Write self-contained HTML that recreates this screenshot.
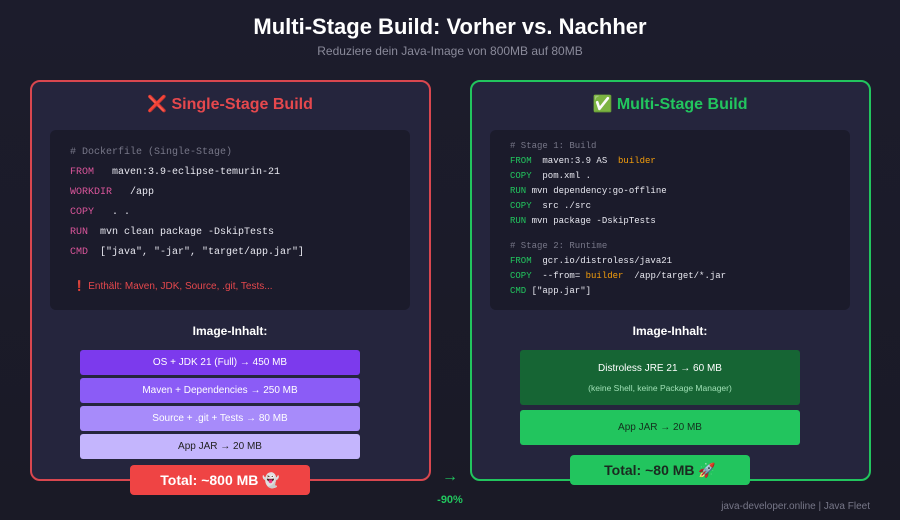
<!DOCTYPE html>
<html><head><meta charset="utf-8"><style>
*{margin:0;padding:0;box-sizing:border-box}
body{width:900px;height:520px;background:linear-gradient(180deg,#1c1c2c,#1a1a26);font-family:"Liberation Sans","DejaVu Sans",sans-serif;position:relative;overflow:hidden;color:#fff}
.a{position:absolute}
.c{text-align:center}
.panel{position:absolute;border-radius:10px;background:#25253d;border:2px solid}
.code{position:absolute;background:#1b1b2b;border-radius:6px}
.m{font-family:"Liberation Mono","DejaVu Sans Mono",monospace;white-space:pre;position:absolute;color:#e8e8f0}
.k1{color:#d9559a}.k2{color:#22c55e}.cm{color:#777788}.b{color:#f59e0b}
.bar{position:absolute;border-radius:3px;display:flex;align-items:center;justify-content:center;font-size:10px}
</style></head><body>
<div class="a c" style="left:0;width:900px;top:14px;font-size:22px;font-weight:bold">Multi-Stage Build: Vorher vs. Nachher</div>
<div class="a c" style="left:0;width:900px;top:44px;font-size:12px;color:#8a8a9a">Reduziere dein Java-Image von 800MB auf 80MB</div>

<div class="panel" style="left:30px;top:80px;width:401px;height:401px;border-color:#d9474f"></div>
<div class="a c" style="left:30px;width:400px;top:94px;font-size:16px;font-weight:bold;color:#e5484d">❌ Single-Stage Build</div>
<div class="code" style="left:50px;top:130px;width:360px;height:180px"></div>
<div class="m cm" style="left:70px;top:147px;font-size:10px">#&nbsp;Dockerfile (Single-Stage)</div>
<div class="m" style="left:70px;top:167px;font-size:10px"><span class="k1">FROM</span>   maven:3.9-eclipse-temurin-21</div>
<div class="m" style="left:70px;top:187px;font-size:10px"><span class="k1">WORKDIR</span>   /app</div>
<div class="m" style="left:70px;top:207px;font-size:10px"><span class="k1">COPY</span>   . .</div>
<div class="m" style="left:70px;top:227px;font-size:10px"><span class="k1">RUN</span>  mvn clean package -DskipTests</div>
<div class="m" style="left:70px;top:247px;font-size:10px"><span class="k1">CMD</span>  ["java", "-jar", "target/app.jar"]</div>
<div class="a" style="left:73px;top:281px;font-size:10px;color:#e5484d">❗ Enthält: Maven, JDK, Source, .git, Tests...</div>
<div class="a c" style="left:30px;width:400px;top:324px;font-size:12px;font-weight:bold">Image-Inhalt:</div>
<div class="bar" style="left:80px;top:350px;width:280px;height:25px;background:#7c3aed">OS + JDK 21 (Full) → 450 MB</div>
<div class="bar" style="left:80px;top:378px;width:280px;height:25px;background:#8b5cf6">Maven + Dependencies → 250 MB</div>
<div class="bar" style="left:80px;top:406px;width:280px;height:25px;background:#a78bfa">Source + .git + Tests → 80 MB</div>
<div class="bar" style="left:80px;top:434px;width:280px;height:25px;background:#c4b5fd;color:#222">App JAR → 20 MB</div>
<div class="bar" style="left:130px;top:465px;width:180px;height:30px;background:#ef4444;font-size:14px;font-weight:bold;border-radius:4px">Total: ~800 MB 👻</div>

<div class="panel" style="left:470px;top:80px;width:401px;height:401px;border-color:#22c55e"></div>
<div class="a c" style="left:470px;width:400px;top:94px;font-size:16px;font-weight:bold;color:#22c55e">✅ Multi-Stage Build</div>
<div class="code" style="left:490px;top:130px;width:360px;height:180px"></div>
<div class="m cm" style="left:510px;top:141px;font-size:9px">#&nbsp;Stage 1: Build</div>
<div class="m" style="left:510px;top:156px;font-size:9px"><span class="k2">FROM</span>  maven:3.9 AS  <span class="b">builder</span></div>
<div class="m" style="left:510px;top:171px;font-size:9px"><span class="k2">COPY</span>  pom.xml .</div>
<div class="m" style="left:510px;top:186px;font-size:9px"><span class="k2">RUN</span> mvn dependency:go-offline</div>
<div class="m" style="left:510px;top:201px;font-size:9px"><span class="k2">COPY</span>  src ./src</div>
<div class="m" style="left:510px;top:216px;font-size:9px"><span class="k2">RUN</span> mvn package -DskipTests</div>
<div class="m cm" style="left:510px;top:241px;font-size:9px">#&nbsp;Stage 2: Runtime</div>
<div class="m" style="left:510px;top:256px;font-size:9px"><span class="k2">FROM</span>  gcr.io/distroless/java21</div>
<div class="m" style="left:510px;top:271px;font-size:9px"><span class="k2">COPY</span>  --from= <span class="b">builder</span>  /app/target/*.jar</div>
<div class="m" style="left:510px;top:286px;font-size:9px"><span class="k2">CMD</span> ["app.jar"]</div>
<div class="a c" style="left:470px;width:400px;top:324px;font-size:12px;font-weight:bold">Image-Inhalt:</div>
<div class="bar" style="left:520px;top:350px;width:280px;height:55px;background:#166534;flex-direction:column"><div>Distroless JRE 21 → 60 MB</div><div style="font-size:8.5px;color:#9fe0b5;margin-top:9px">(keine Shell, keine Package Manager)</div></div>
<div class="bar" style="left:520px;top:410px;width:280px;height:35px;background:#22c55e;color:#14301e">App JAR → 20 MB</div>
<div class="bar" style="left:570px;top:455px;width:180px;height:30px;background:#22c55e;font-size:14px;font-weight:bold;color:#1a2a20;border-radius:4px">Total: ~80 MB 🚀</div>

<div class="a c" style="left:430px;width:40px;top:468px;font-size:16px;color:#22c55e">→</div>
<div class="a c" style="left:425px;width:50px;top:494px;font-size:11px;font-weight:bold;color:#22c55e">-90%</div>
<div class="a" style="left:700px;width:170px;text-align:right;top:501px;font-size:10px;color:#777788">java-developer.online | Java Fleet</div>
</body></html>
